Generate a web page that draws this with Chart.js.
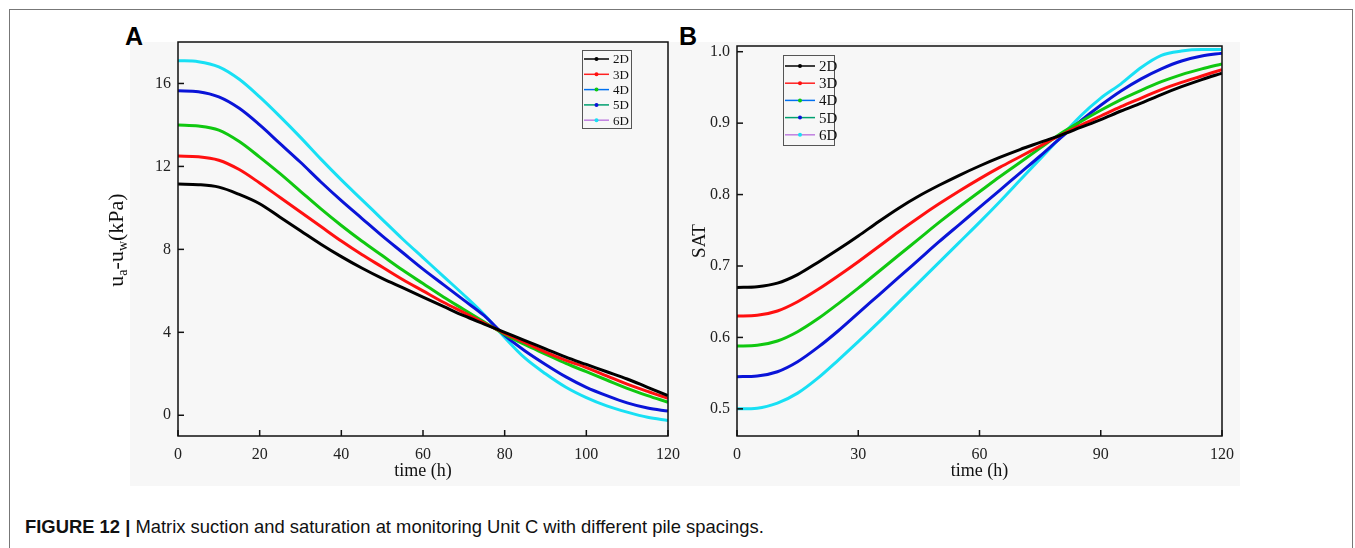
<!DOCTYPE html>
<html>
<head>
<meta charset="utf-8">
<script src="https://cdn.jsdelivr.net/npm/chart.js@4.4.1/dist/chart.umd.min.js"></script>
<style>
  body { margin: 0; background: #fff; width: 1355px; height: 548px; overflow: hidden; position: relative; }
  #frame { position: absolute; left: 9px; top: 9px; width: 1342px; height: 600px; border: 1px solid #777; }
  .panelBg { position: absolute; top: 42px; height: 444px; background: #f7f7f7; }
  .tag { position: absolute; top: 22px; font: bold 25px "Liberation Sans", Arial, sans-serif; color: #000; }
  canvas { position: absolute; }
  #caption { position: absolute; left: 25px; top: 516px; font: 18.4px "Liberation Sans", Arial, sans-serif; color: #111; white-space: nowrap; }
</style>
</head>
<body>
<div id="frame"></div>
<div class="panelBg" style="left:130px;width:560px"></div>
<div class="panelBg" style="left:690px;width:550px"></div>
<div class="tag" style="left:125px">A</div>
<div class="tag" style="left:679px">B</div>
<canvas id="chartA" width="580" height="470" style="left:100px;top:30px"></canvas>
<canvas id="chartB" width="555" height="470" style="left:680px;top:30px"></canvas>
<div id="caption"><b>FIGURE 12 |</b> Matrix suction and saturation at monitoring Unit C with different pile spacings.</div>

<script>
// 시간축 (h)
const hours = [0, 5, 10, 15, 20, 25, 30, 35, 40, 45, 50, 55, 60, 65, 70, 75, 80, 85, 90, 95, 100, 105, 110, 115, 120];
const seriesNames = ["2D", "3D", "4D", "5D", "6D"];

// A: 기질 흡입력 u_a-u_w (kPa)
const suction2D = [11.15, 11.12, 11.0, 10.65, 10.2, 9.55, 8.9, 8.25, 7.65, 7.1, 6.6, 6.15, 5.7, 5.25, 4.8, 4.4, 4.0, 3.6, 3.2, 2.8, 2.45, 2.1, 1.75, 1.35, 0.95];
const suction3D = [12.5, 12.47, 12.3, 11.85, 11.2, 10.5, 9.8, 9.1, 8.4, 7.75, 7.15, 6.55, 6.0, 5.45, 4.95, 4.45, 3.95, 3.5, 3.05, 2.65, 2.3, 1.9, 1.5, 1.15, 0.82];
const suction4D = [14.0, 13.95, 13.75, 13.2, 12.45, 11.65, 10.8, 9.95, 9.15, 8.4, 7.7, 7.0, 6.35, 5.7, 5.1, 4.5, 3.9, 3.4, 2.95, 2.5, 2.1, 1.7, 1.3, 0.95, 0.63];
const suction5D = [15.65, 15.6, 15.35, 14.8, 14.0, 13.1, 12.2, 11.25, 10.35, 9.5, 8.65, 7.85, 7.05, 6.3, 5.55, 4.8, 3.85, 3.1, 2.45, 1.85, 1.35, 0.95, 0.6, 0.35, 0.2];
const suction6D = [17.1, 17.05, 16.8, 16.2, 15.35, 14.4, 13.4, 12.35, 11.35, 10.4, 9.45, 8.5, 7.6, 6.7, 5.8, 4.85, 3.75, 2.75, 2.0, 1.35, 0.85, 0.45, 0.15, -0.1, -0.25];

// B: 포화도 SAT
const sat2D = [0.670, 0.671, 0.676, 0.688, 0.705, 0.723, 0.742, 0.762, 0.781, 0.798, 0.813, 0.827, 0.840, 0.852, 0.863, 0.873, 0.883, 0.894, 0.905, 0.917, 0.928, 0.940, 0.951, 0.961, 0.970];
const sat3D = [0.630, 0.631, 0.637, 0.650, 0.667, 0.686, 0.706, 0.727, 0.748, 0.768, 0.787, 0.805, 0.822, 0.838, 0.853, 0.868, 0.883, 0.897, 0.910, 0.923, 0.935, 0.947, 0.957, 0.966, 0.975];
const sat4D = [0.588, 0.589, 0.595, 0.608, 0.626, 0.647, 0.669, 0.692, 0.715, 0.738, 0.761, 0.783, 0.804, 0.825, 0.845, 0.865, 0.885, 0.902, 0.918, 0.933, 0.946, 0.958, 0.968, 0.976, 0.983];
const sat5D = [0.545, 0.546, 0.552, 0.566, 0.586, 0.609, 0.634, 0.659, 0.684, 0.709, 0.734, 0.758, 0.782, 0.806, 0.830, 0.854, 0.879, 0.903, 0.925, 0.945, 0.962, 0.976, 0.987, 0.994, 0.998];
const sat6D = [0.500, 0.501, 0.508, 0.522, 0.543, 0.568, 0.594, 0.621, 0.649, 0.677, 0.705, 0.733, 0.761, 0.790, 0.820, 0.850, 0.880, 0.910, 0.935, 0.955, 0.978, 0.995, 1.001, 1.003, 1.003];

// 눈금
const ticksAx = [0, 20, 40, 60, 80, 100, 120];
const ticksAy = [0, 4, 8, 12, 16];
const ticksBx = [0, 30, 60, 90, 120];
const ticksBy = [0.5, 0.6, 0.7, 0.8, 0.9, 1.0];

// 곡선 색 (마커색), 범례 선 색
const markerColors = ["#000000", "#ff1010", "#10c810", "#0a14d8", "#18e0f4"];
const legendLineColors = ["#000000", "#ff2020", "#0070f0", "#00a070", "#c080e0"];

const serif = '"Liberation Serif", "Times New Roman", serif';

function makeDatasets(arrays) {
    return arrays.map((arr, i) => ({
        label: seriesNames[i],
        data: hours.map((h, j) => ({ x: h, y: arr[j] })),
        borderColor: markerColors[i],
        borderWidth: 3,
        pointRadius: 0,
        cubicInterpolationMode: "monotone",
        fill: false
    }));
}

// 박스 테두리, 안쪽 눈금, 범례, y축 제목 그리기
const framePlugin = {
    id: "framePlugin",
    afterDraw(chart, args, opts) {
        const ctx = chart.ctx;
        const a = chart.chartArea;
        ctx.save();
        ctx.strokeStyle = "#111";
        ctx.lineWidth = 1.5;
        ctx.strokeRect(a.left, a.top, a.right - a.left, a.bottom - a.top);

        // 안쪽 눈금
        const xs = chart.scales.x, ys = chart.scales.y;
        xs.ticks.forEach(t => {
            const px = xs.getPixelForValue(t.value);
            ctx.beginPath();
            ctx.moveTo(px, a.bottom);
            ctx.lineTo(px, a.bottom - 6);
            ctx.stroke();
        });
        ys.ticks.forEach(t => {
            const py = ys.getPixelForValue(t.value);
            ctx.beginPath();
            ctx.moveTo(a.left, py);
            ctx.lineTo(a.left + 6, py);
            ctx.stroke();
        });

        // 범례
        const lg = opts.legend;
        ctx.strokeStyle = "#555";
        ctx.lineWidth = 1;
        ctx.strokeRect(lg.x + 0.5, lg.y + 0.5, lg.w, lg.h);
        ctx.font = lg.fontSize + "px " + serif;
        ctx.textBaseline = "middle";
        ctx.textAlign = "left";
        seriesNames.forEach((name, i) => {
            const yy = lg.y + lg.first + i * lg.step;
            ctx.strokeStyle = legendLineColors[i];
            ctx.lineWidth = 1.5;
            ctx.beginPath();
            ctx.moveTo(lg.x + 2, yy);
            ctx.lineTo(lg.x + 2 + lg.line, yy);
            ctx.stroke();
            ctx.fillStyle = markerColors[i];
            ctx.beginPath();
            ctx.arc(lg.x + 2 + lg.line / 2, yy, 2, 0, Math.PI * 2);
            ctx.fill();
            ctx.fillStyle = "#111";
            ctx.fillText(name, lg.x + lg.line + 6, yy + 1);
        });

        // y축 제목 (아래첨자 포함)
        if (opts.yTitle) {
            const parts = opts.yTitle.parts;
            const big = "22px " + serif, small = "14px " + serif;
            let total = 0;
            parts.forEach(p => { ctx.font = p.sub ? small : big; total += ctx.measureText(p.t).width; });
            ctx.translate(opts.yTitle.x, opts.yTitle.y);
            ctx.rotate(-Math.PI / 2);
            ctx.fillStyle = "#111";
            ctx.textAlign = "left";
            ctx.textBaseline = "alphabetic";
            let cx = -total / 2;
            parts.forEach(p => {
                ctx.font = p.sub ? small : big;
                ctx.fillText(p.t, cx, p.sub ? 11 : 7);
                cx += ctx.measureText(p.t).width;
            });
        }
        ctx.restore();
    }
};

function makeOptions(cfg) {
    return {
        responsive: false,
        animation: false,
        devicePixelRatio: 1,
        layout: { padding: cfg.padding },
        plugins: {
            legend: { display: false },
            tooltip: { enabled: false },
            framePlugin: { legend: cfg.legend, yTitle: cfg.yTitle }
        },
        scales: {
            x: {
                type: "linear",
                min: 0,
                max: 120,
                afterBuildTicks: s => { s.ticks = cfg.xTicks.map(v => ({ value: v })); },
                afterFit: s => { s.height = 64; s.paddingLeft = 0; s.paddingRight = 0; },
                grid: { display: false, drawTicks: false },
                border: { display: false },
                ticks: { color: "#222", font: { family: serif, size: 16 }, padding: 9, maxRotation: 0 },
                title: { display: true, text: "time (h)", color: "#111", font: { family: serif, size: 18 }, padding: { top: 0, bottom: 18 } }
            },
            y: {
                type: "linear",
                min: cfg.yMin,
                max: cfg.yMax,
                afterBuildTicks: s => { s.ticks = cfg.yTicks.map(v => ({ value: v })); },
                afterFit: s => { s.width = cfg.yWidth; s.paddingTop = 0; s.paddingBottom = 0; },
                grid: { display: false, drawTicks: false },
                border: { display: false },
                ticks: {
                    color: "#222",
                    font: { family: serif, size: 16 },
                    padding: 7,
                    callback: v => cfg.yFmt(v)
                },
                title: cfg.yScaleTitle
            }
        }
    };
}

new Chart(document.getElementById("chartA"), {
    type: "line",
    data: { datasets: makeDatasets([suction2D, suction3D, suction4D, suction5D, suction6D]) },
    options: makeOptions({
        padding: { top: 12, right: 12, bottom: 0, left: 0 },
        yWidth: 78,
        yMin: -1, yMax: 18,
        xTicks: ticksAx, yTicks: ticksAy,
        yFmt: v => String(v),
        yScaleTitle: { display: false },
        legend: { x: 482, y: 20, w: 49, h: 78, first: 9, step: 15.3, line: 25, fontSize: 13 },
        yTitle: { x: 16, y: 210, parts: [{ t: "u" }, { t: "a", sub: true }, { t: "-u" }, { t: "w", sub: true }, { t: "(kPa)" }] }
    }),
    plugins: [framePlugin]
});

new Chart(document.getElementById("chartB"), {
    type: "line",
    data: { datasets: makeDatasets([sat2D, sat3D, sat4D, sat5D, sat6D]) },
    options: makeOptions({
        padding: { top: 16, right: 13, bottom: 0, left: 0 },
        yWidth: 57,
        yMin: 0.462, yMax: 1.008,
        xTicks: ticksBx, yTicks: ticksBy,
        yFmt: v => v.toFixed(1),
        yScaleTitle: { display: true, text: "SAT", color: "#111", font: { family: serif, size: 19 }, padding: { top: 9, bottom: 0 } },
        legend: { x: 103, y: 25, w: 51, h: 90, first: 11, step: 17.2, line: 30, fontSize: 15 },
        yTitle: null
    }),
    plugins: [framePlugin]
});
</script>
</body>
</html>
